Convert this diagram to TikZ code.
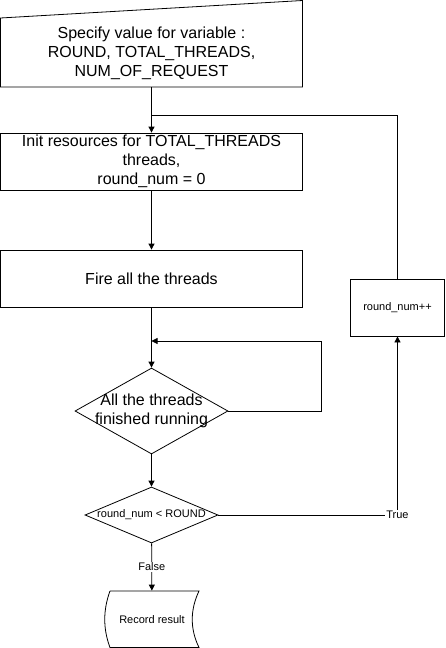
\documentclass[tikz,border=0pt]{standalone}
\usepackage{fontspec}
\setmainfont{Liberation Sans}
\usetikzlibrary{shapes.geometric,arrows.meta}

\begin{document}
\begin{tikzpicture}[x=1pt, y=-1pt, line width=0.8pt, >={Triangle[length=6pt,width=6pt]}]
	\tikzstyle{box} = [rectangle, draw, minimum width=302pt, minimum height=57pt, inner sep=0pt, align=center, font=\fontsize{16}{19}\selectfont]
	\tikzstyle{decision} = [diamond, draw, inner sep=0pt]
	\tikzstyle{smalltxt} = [font=\fontsize{11}{13}\selectfont]
	\useasboundingbox (0,0) rectangle (445,648);
	\node (Spec) [box, draw=none, minimum height=68pt] at (151.5,53) {Specify value for variable :\\ROUND, TOTAL\_THREADS,\\NUM\_OF\_REQUEST};
	\draw (0.5,18) -- (302.5,0.5) -- (302.5,87) -- (0.5,87) -- cycle;
	\node (Init) [box] at (151.5,161.5) {Init resources for TOTAL\_THREADS\\threads,\\round\_num = 0};
	\node (Fire) [box] at (151.5,278.5) {Fire all the threads};
	\node (Dia1) [decision, minimum width=153pt, minimum height=86pt, label={[align=center, font=\fontsize{16}{19}\selectfont]center:All the threads\\finished running}] at (151.5,411) {};
	\node (Dia2) [decision, minimum width=133pt, minimum height=56pt, label={[smalltxt]center:round\_num < ROUND}] at (151.5,515) {};
	\node (Inc) [box, smalltxt, minimum width=94pt] at (397.5,307.5) {round\_num++};
	\node (Rec) [smalltxt, minimum width=94pt, minimum height=57pt] at (152,619.5) {Record result};
	\draw (110,591) -- (199,591) .. controls (190,610) and (190,629) .. (199,647.5) -- (110,647.5) .. controls (103,629) and (103,610) .. (110,591);
	\coordinate (Join) at (151.5,115);
	\coordinate (Wait) at (151.5,341);
	\draw [->] (Spec)--(Init);
	\draw (Inc) |- (Join);
	\draw [->] (Init)--(Fire);
	\draw [->] (Fire)--(Dia1);
	\draw [->] (Dia1.east) -- ++(93,0) |- (Wait);
	\draw [->] (Dia1)--(Dia2);
	\draw [->] (Dia2.east) -| node [smalltxt, fill=white, inner sep=1pt] {True} (Inc);
	\draw [->] (Dia2) -- node [smalltxt, fill=white, inner sep=1pt] {False} (Rec);
\end{tikzpicture}
\end{document}
